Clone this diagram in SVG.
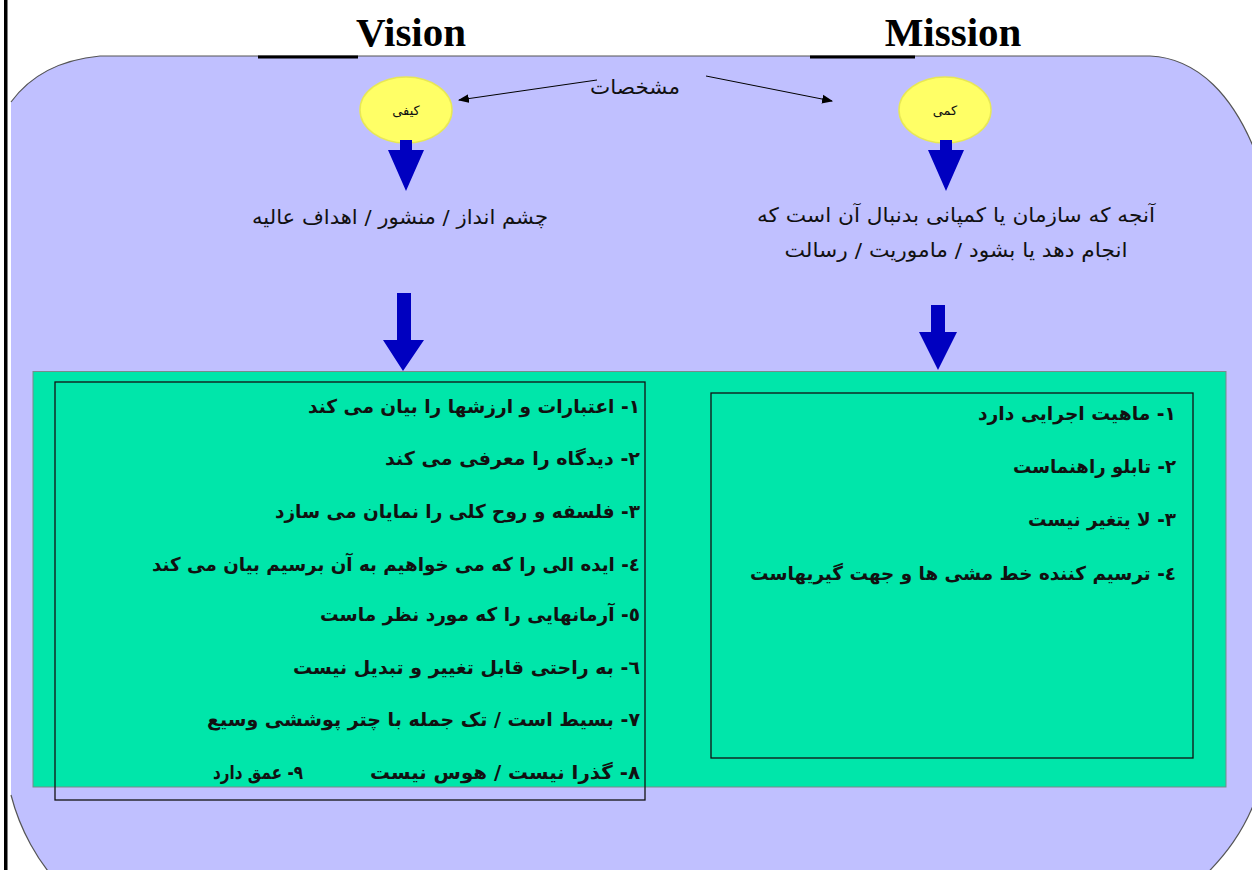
<svg xmlns="http://www.w3.org/2000/svg" width="1252" height="870" viewBox="0 0 1252 870">
  <defs>
    <marker id="tip" viewBox="0 0 10 10" refX="9" refY="5" markerWidth="11" markerHeight="11" markerUnits="userSpaceOnUse" orient="auto">
      <path d="M0,1 L10,5 L0,9 Z" fill="#000"/>
    </marker>
    <style>
      .title { font-family: "Liberation Serif", "Times New Roman", serif; font-weight: bold; font-size: 41px; fill: #000; text-anchor: middle; }
      .fa { font-family: "DejaVu Sans", "Noto Sans", sans-serif; fill: #111; direction: rtl; }
      .mid { font-size: 20px; text-anchor: middle; }
      .item { font-size: 19px; font-weight: bold; text-anchor: start; }
      .small { font-size: 13px; text-anchor: middle; }
      .blue { fill: #0000C0; }
      .oval { fill: #FFFF66; stroke: #E8E855; stroke-width: 1.5; }
      .frame { fill: none; stroke: #111; stroke-width: 1.3; }
      .thin { stroke: #000; stroke-width: 1; fill: none; }
    </style>
  </defs>

  <rect x="0" y="0" width="1252" height="870" fill="#fff"/>

  <!-- rounded background panel -->
  <g id="panel">
    <path d="M11,102 C30,76 58,60 100,56 L1150,56 C1195,58 1236,92 1262,170 L1262,780 C1248,830 1222,860 1195,885 L60,885 C38,862 20,830 11,795 Z" fill="#C0C0FF"/>
    <path d="M11,102 C30,76 58,60 100,56 L1150,56 C1195,58 1236,92 1262,170 M1262,780 C1248,830 1222,860 1195,885 M60,885 C38,862 20,830 11,795" fill="none" stroke="#555" stroke-width="1.2"/>
  </g>

  <!-- left page rule -->
  <rect x="4" y="0" width="3.5" height="870" fill="#000"/>

  <!-- headings -->
  <g id="vision-title">
    <text class="title" x="411" y="46">Vision</text>
    <rect x="258" y="55.5" width="100" height="3" fill="#000"/>
  </g>
  <g id="mission-title">
    <text class="title" x="953" y="46">Mission</text>
    <rect x="810" y="55.5" width="105" height="3" fill="#000"/>
  </g>

  <!-- feature label -->
  <g id="features">
    <text class="fa mid" x="635" y="94" textLength="90" lengthAdjust="spacingAndGlyphs">مشخصات</text>
  </g>

  <!-- qualitative / quantitative ovals -->
  <g id="qualitative">
    <ellipse class="oval" cx="406" cy="110" rx="46" ry="33"/>
    <text class="fa small" x="406" y="115">کیفی</text>
  </g>
  <g id="quantitative">
    <ellipse class="oval" cx="945" cy="110" rx="46" ry="33"/>
    <text class="fa small" x="945" y="115">کمی</text>
  </g>

  <!-- descriptions -->
  <g id="vision-desc">
    <text class="fa mid" x="400" y="224" textLength="296" lengthAdjust="spacingAndGlyphs">چشم انداز / منشور / اهداف عالیه</text>
  </g>
  <g id="mission-desc">
    <text class="fa mid" x="956" y="222" textLength="398" lengthAdjust="spacingAndGlyphs">آنجه که سازمان یا کمپانی بدنبال آن است که</text>
    <text class="fa mid" x="956" y="257" textLength="343" lengthAdjust="spacingAndGlyphs">انجام دهد یا بشود / ماموریت / رسالت</text>
  </g>

  <!-- green band with the two lists -->
  <g id="band">
    <rect x="33" y="371.5" width="1193" height="415.5" fill="#00E6AA" stroke="#7a8a8a" stroke-width="1"/>
  </g>

  <g id="vision-list">
    <rect class="frame" x="55" y="382" width="590" height="418"/>
    <text class="fa item" x="640" y="413" textLength="332" lengthAdjust="spacingAndGlyphs">١- اعتبارات و ارزشها را بیان می کند</text>
    <text class="fa item" x="640" y="465" textLength="255" lengthAdjust="spacingAndGlyphs">٢- دیدگاه را معرفی می کند</text>
    <text class="fa item" x="640" y="518" textLength="365" lengthAdjust="spacingAndGlyphs">٣- فلسفه و روح کلی را نمایان می سازد</text>
    <text class="fa item" x="640" y="571" textLength="488" lengthAdjust="spacingAndGlyphs">٤- ایده الی را که می خواهیم به آن برسیم بیان می کند</text>
    <text class="fa item" x="640" y="621" textLength="320" lengthAdjust="spacingAndGlyphs">٥- آرمانهایی را که مورد نظر ماست</text>
    <text class="fa item" x="640" y="674" textLength="347" lengthAdjust="spacingAndGlyphs">٦- به راحتی قابل تغییر و تبدیل نیست</text>
    <text class="fa item" x="640" y="726" textLength="433" lengthAdjust="spacingAndGlyphs">٧- بسیط است / تک جمله با چتر پوششی وسیع</text>
    <text class="fa item" x="640" y="779" textLength="270" lengthAdjust="spacingAndGlyphs">٨- گذرا نیست / هوس نیست</text>
    <text class="fa item" x="303" y="779" textLength="90" lengthAdjust="spacingAndGlyphs">٩- عمق دارد</text>
  </g>

  <g id="mission-list">
    <rect class="frame" x="711" y="393" width="482" height="365"/>
    <text class="fa item" x="1176" y="420" textLength="198" lengthAdjust="spacingAndGlyphs">١- ماهیت اجرایی دارد</text>
    <text class="fa item" x="1176" y="473" textLength="163" lengthAdjust="spacingAndGlyphs">٢- تابلو راهنماست</text>
    <text class="fa item" x="1176" y="526" textLength="148" lengthAdjust="spacingAndGlyphs">٣- لا یتغیر نیست</text>
    <text class="fa item" x="1176" y="580" textLength="426" lengthAdjust="spacingAndGlyphs">٤- ترسیم کننده خط مشی ها و جهت گیریهاست</text>
  </g>

  <!-- connectors -->
  <g id="connectors">
    <line class="thin" x1="597" y1="80" x2="459" y2="100" marker-end="url(#tip)"/>
    <line class="thin" x1="706" y1="76" x2="832" y2="101" marker-end="url(#tip)"/>
    <path class="blue" d="M400,140 H412 V150 H424 L406,191 L388,150 H400 Z"/>
    <path class="blue" d="M940,140 H952 V150 H964 L946,191 L928,150 H940 Z"/>
    <path class="blue" d="M397,293 H411 V340 H424 L403,371 L383,340 H397 Z"/>
    <path class="blue" d="M931,305 H945 V332 H957 L938,370 L919,332 H931 Z"/>
  </g>
</svg>
